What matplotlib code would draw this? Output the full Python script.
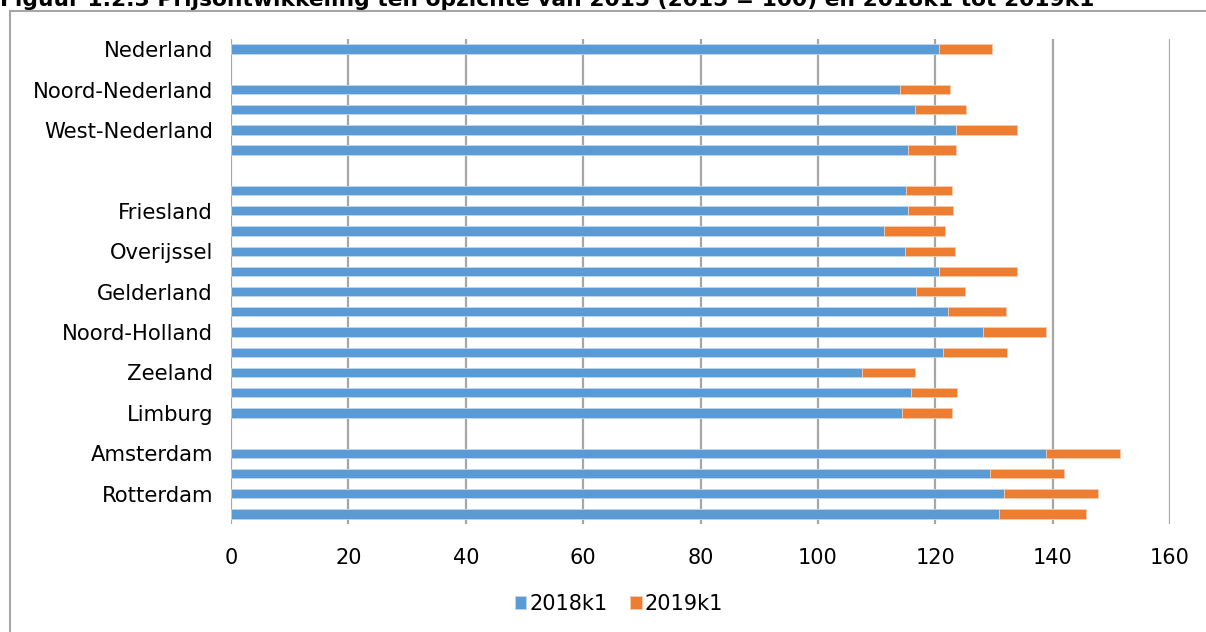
import numpy as np
import matplotlib
matplotlib.use("Agg")
import matplotlib.pyplot as plt
from matplotlib.lines import Line2D

title = "Figuur 1.2.3 Prijsontwikkeling ten opzichte van 2015 (2015 = 100) en 2018k1 tot 2019k1"

regions = ["Nederland", "", "Noord-Nederland", "Oost-Nederland", "West-Nederland",
           "Zuid-Nederland", "", "Groningen", "Friesland", "Drenthe", "Overijssel",
           "Flevoland", "Gelderland", "Utrecht", "Noord-Holland", "Zuid-Holland",
           "Zeeland", "Noord-Brabant", "Limburg", "", "Amsterdam", "'s-Gravenhage",
           "Rotterdam", "Utrecht (gemeente)"]

nan = np.nan
k2018 = [120.6, nan, 114.0, 116.5, 123.5, 115.4, nan, 115.1, 115.3, 111.3, 114.8,
         120.7, 116.7, 122.2, 128.2, 121.4, 107.5, 115.8, 114.4, nan, 138.8, 129.4,
         131.7, 130.9]
k2019 = [9.1, nan, 8.5, 8.8, 10.5, 8.1, nan, 7.7, 7.7, 10.3, 8.5,
         13.3, 8.3, 9.9, 10.7, 10.9, 9.0, 7.9, 8.5, nan, 12.6, 12.6,
         16.0, 14.8]
series_names = ["2018k1", "2019k1"]
xticks = [0, 20, 40, 60, 80, 100, 120, 140, 160]

blue = "#5B9BD5"
orange = "#ED7D31"
grey = "#A6A6A6"

W, H = 1206, 632
fig = plt.figure(figsize=(W / 100, H / 100), dpi=100)
fig.patch.set_facecolor("white")

ax = fig.add_axes([231 / W, 1 - 524 / H, (1170 - 231) / W, (524 - 39) / H])

y = np.arange(len(regions))
a = np.array(k2018, dtype=float)
b = np.array(k2019, dtype=float)
h = 0.46
ax.barh(y, a, height=h, color=blue, edgecolor="#BDD7EE", linewidth=0.6,
        label=series_names[0], zorder=3)
ax.barh(y, b, left=a, height=h, color=orange, edgecolor="#F8CBAD", linewidth=0.6,
        label=series_names[1], zorder=3)

ax.set_xlim(0, 160)
ax.set_ylim(len(regions) - 0.5, -0.5)
ax.set_xticks(xticks)
ax.set_xticklabels([str(t) for t in xticks], fontsize=15, color="#000000")
ax.set_yticks(y)
ax.set_yticklabels([r if i % 2 == 0 else "" for i, r in enumerate(regions)],
                   fontsize=15.2, color="#000000")
ax.tick_params(axis="both", length=0)
ax.tick_params(axis="x", pad=17)
ax.tick_params(axis="y", pad=13)
ax.xaxis.grid(True, color=grey, linewidth=1.6, zorder=0)
ax.set_axisbelow(True)
for s in ax.spines.values():
    s.set_visible(False)

fig.text(0.0, 1 - 6 / H, title, ha="left", va="baseline", fontsize=15.7,
         fontweight="bold", color="#000000")

bx = 10 / W
by = 1 - 11 / H
fig.add_artist(Line2D([bx, bx], [0, by], transform=fig.transFigure, color=grey, linewidth=1.5))
fig.add_artist(Line2D([bx, 1], [by, by], transform=fig.transFigure, color=grey, linewidth=1.5))

fig.legend(loc="center", bbox_to_anchor=(619 / W, 1 - 604 / H), ncol=2, frameon=False,
           fontsize=15, handlelength=0.55, handleheight=0.55, handletextpad=0.15,
           columnspacing=1.1)

fig.savefig("out.png", dpi=100, facecolor="white")
